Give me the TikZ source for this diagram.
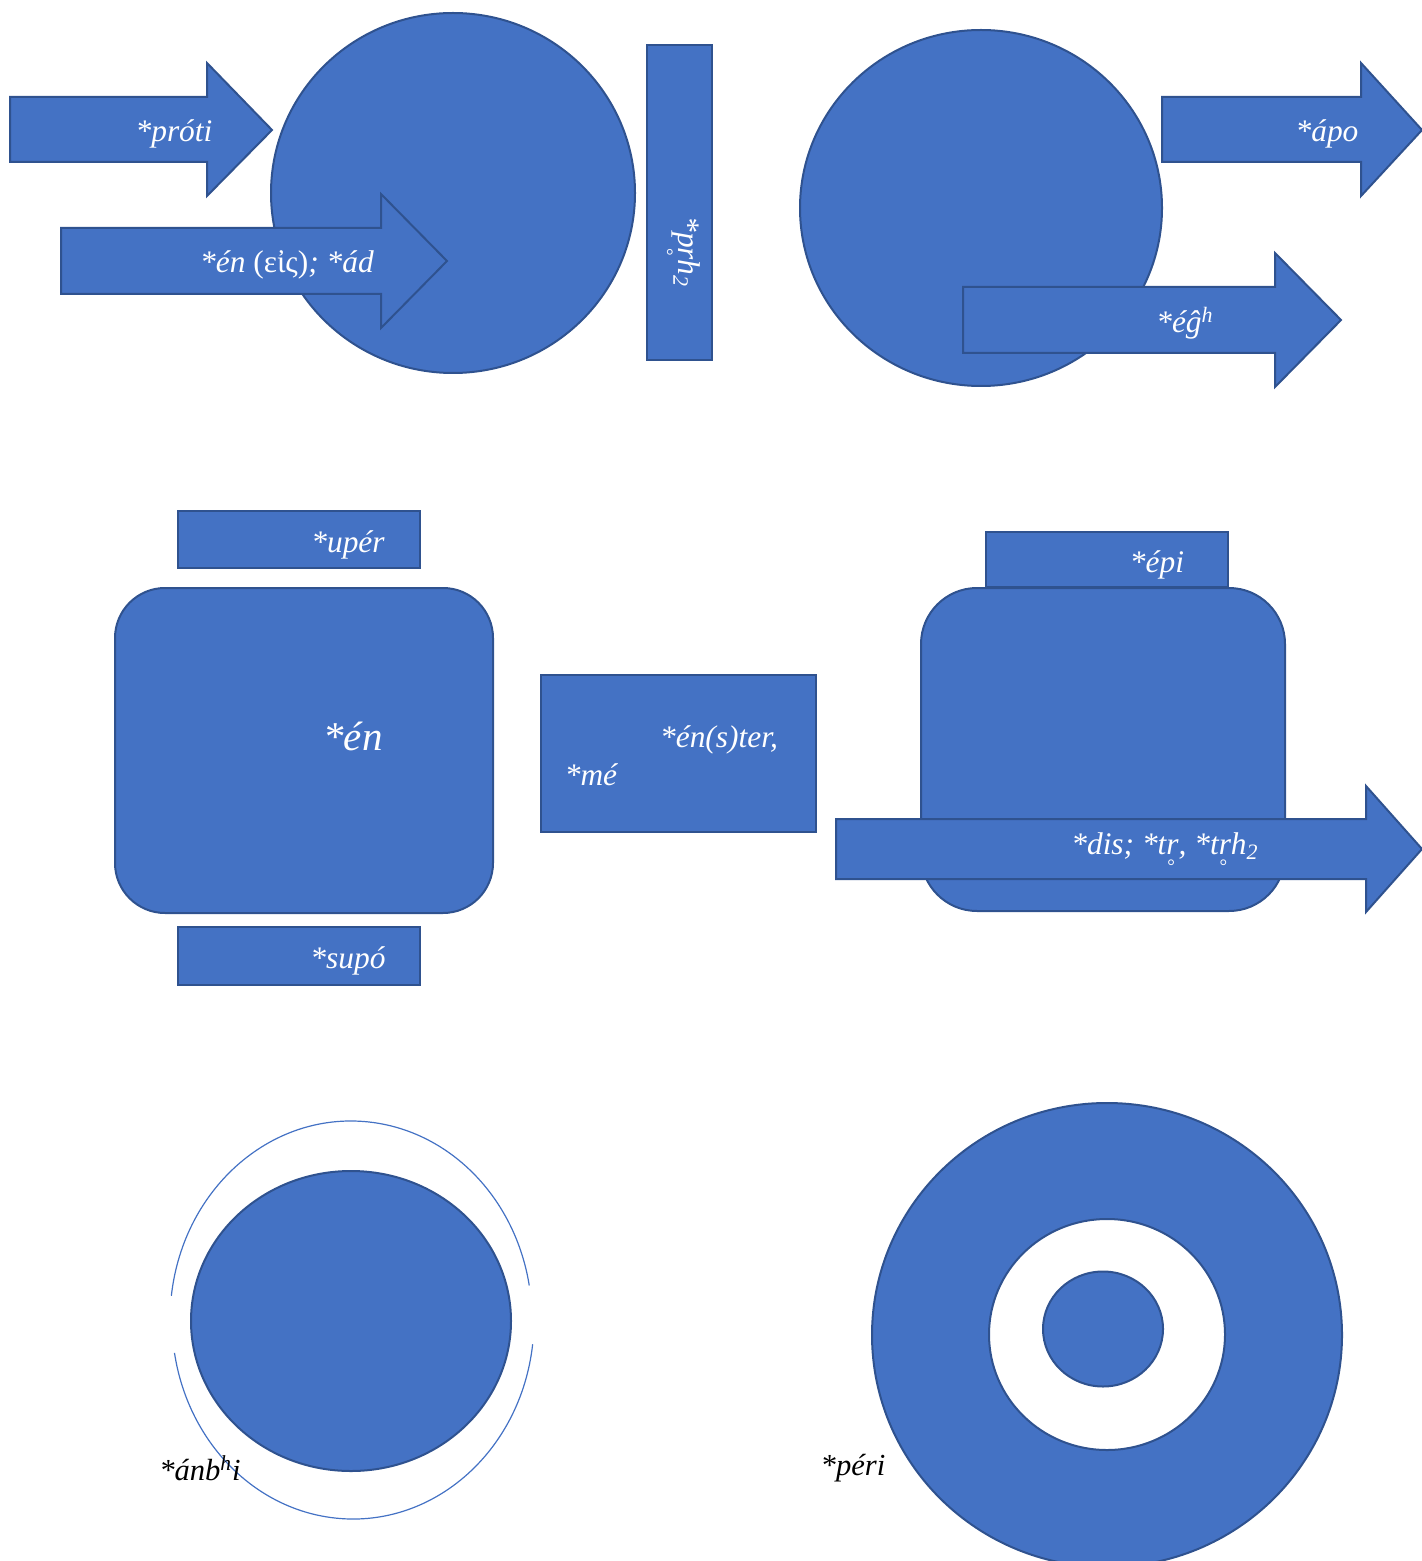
\documentclass[tikz,border=0pt]{standalone}
\usepackage{fontspec}
\setmainfont{Liberation Serif}
\definecolor{fillblue}{HTML}{4472C4}
\definecolor{edgeblue}{HTML}{2F528F}
\newcommand{\subr}{r\llap{\raisebox{-0.57em}{\fontsize{9.5}{9.5}\selectfont\upshape°}\kern1.9pt}}

\begin{document}
\begin{tikzpicture}[x=0.5pt, y=-0.5pt, main/.style = {draw=edgeblue, fill=fillblue, line width=1pt}, lbl/.style = {text=white, font=\itshape\fontsize{15.7}{18}\selectfont}, blk/.style = {text=black, font=\itshape\fontsize{15.3}{18}\selectfont}, ring/.style = {draw=fillblue, line width=0.6pt}]
\useasboundingbox (0,0) rectangle (1422,1561);
\draw[main] (453,193) ellipse [x radius=182, y radius=180];
\draw[main] (10,97) -- (207,97) -- (207,63) -- (272,130) -- (207,196) -- (207,162) -- (10,162) -- cycle;
\draw[main] (61,228) -- (381,228) -- (381,194) -- (447,261) -- (381,328) -- (381,294) -- (61,294) -- cycle;
\draw[main] (647,45) rectangle (712,360);
\node[lbl] (proti) at (174,134) {*próti};
\node[lbl] (en) at (287,265) {*én \textup{(εἰς)}; *ád};
\node[lbl, rotate=-90] (prh) at (680,252) {*p\subr h\textsubscript{2}};

\draw[main] (981,208) ellipse [x radius=181, y radius=178];
\draw[main] (1162,97) -- (1361,97) -- (1361,63) -- (1422,130) -- (1361,196) -- (1361,162) -- (1162,162) -- cycle;
\draw[main] (963,287) -- (1275,287) -- (1275,253) -- (1341,320) -- (1275,387) -- (1275,353) -- (963,353) -- cycle;
\node[lbl] (apo) at (1327,134) {*ápo};
\node[lbl] (egh) at (1185,323) {*éĝ\textsuperscript{h}};

\draw[main] (178,511) rectangle (420,568);
\draw[main, rounded corners=25pt] (115,588) rectangle (493,913);
\draw[main] (178,927) rectangle (420,985);
\node[lbl] (uper) at (348,545) {*upér};
\node[lbl, font=\itshape\fontsize{20.5}{24}\selectfont] (enbig) at (353,736) {*én};
\node[lbl] (supo) at (348,961) {*supó};

\draw[main] (541,675) rectangle (816,832);
\node[lbl] (enster) at (719,740) {*én(s)ter,};
\node[lbl] (me) at (591,775) {*mé};

\draw[main, rounded corners=28pt] (921,588) rectangle (1285,911);
\draw[main] (986,532) rectangle (1228,587);
\draw[main] (836,819) -- (1366,819) -- (1366,786) -- (1422,849) -- (1366,912) -- (1366,879) -- (836,879) -- cycle;
\node[lbl] (epi) at (1157,565) {*épi};
\node[lbl] (dis) at (1165,853) {*dis; *t\subr, *t\subr h\textsubscript{2}};

\draw[main] (351,1321) ellipse [x radius=160, y radius=150];
\coordinate (c) at (351,1320);
\draw[ring] (c) ++(187:181 and 199) arc [start angle=187, end angle=350, x radius=181, y radius=199];
\draw[ring] ([xshift=1pt]c) ++(7:181 and 199) arc [start angle=7, end angle=170.5, x radius=181, y radius=199];
\node[blk] (anbhi) at (200,1468) {*ánb\textsuperscript{h}i};

\draw[main, even odd rule] (1107,1335) ellipse [x radius=235, y radius=232] (1107,1334.5) ellipse [x radius=118, y radius=115.5];
\draw[main] (1103,1329) ellipse [x radius=60, y radius=57.5];
\node[blk] (peri) at (853,1468) {*péri};
\end{tikzpicture}
\end{document}
